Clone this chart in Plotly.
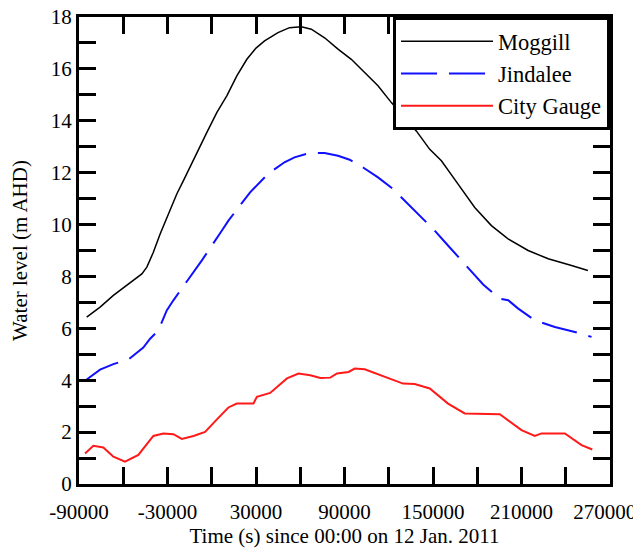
import plotly.graph_objects as go

# ---- data ----
moggill_t = [-84800, -75700, -66700, -57600, -47400, -44000, -39600, -35000, -29400, -23700,
             -19200, -10100, -3300, 3500, 10200, 17000, 23800, 30000, 35800, 44900, 52700,
             60700, 67500, 76500, 85600, 94600, 103600, 112700, 121800, 130000, 138800,
             147800, 155700, 167000, 178300, 189600, 200900, 214500, 228100, 243900, 255000]
moggill_h = [6.43, 6.82, 7.27, 7.65, 8.10, 8.36, 8.93, 9.64, 10.41, 11.18,
             11.69, 12.78, 13.55, 14.32, 14.96, 15.73, 16.37, 16.80, 17.08, 17.40, 17.59,
             17.62, 17.53, 17.20, 16.76, 16.37, 15.86, 15.35, 14.70, 14.15, 13.60,
             12.90, 12.46, 11.56, 10.66, 9.96, 9.45, 9.00, 8.68, 8.42, 8.23]

jindalee_t = [-84800, -75700, -66700, -56500, -46400, -41800, -36200, -30500, -26000, -12400,
              -6700, 6900, 11300, 26000, 38100, 49300, 56100, 66300, 76500, 85600, 93500,
              102600, 112700, 122900, 129700, 139900, 151100, 159100, 178300, 184000,
              195300, 201000, 207800, 219000, 232600, 246200, 257500]
jindalee_h = [4.03, 4.41, 4.62, 4.80, 5.26, 5.60, 5.92, 6.69, 7.08, 8.17,
              8.62, 9.77, 10.15, 11.24, 11.95, 12.40, 12.59, 12.76, 12.76, 12.65, 12.50,
              12.20, 11.82, 11.37, 10.99, 10.41, 9.77, 9.26, 8.04, 7.69,
              7.14, 7.08, 6.76, 6.31, 6.05, 5.86, 5.67]

city_t = [-85900, -80300, -73500, -66700, -58800, -49750, -39600, -32800, -26000, -20300,
          -12400, -4500, 3500, 11300, 17000, 28300, 30600, 39600, 51000, 58800, 66800,
          73600, 80400, 84900, 92800, 96900, 103700, 117200, 129700, 137600, 147800,
          160200, 171500, 195300, 210000, 219000, 223600, 239400, 250700, 258000]
city_h = [1.18, 1.47, 1.41, 1.05, 0.86, 1.12, 1.85, 1.95, 1.92, 1.74,
          1.85, 2.01, 2.49, 2.95, 3.10, 3.10, 3.36, 3.51, 4.07, 4.26, 4.19,
          4.09, 4.10, 4.26, 4.32, 4.45, 4.42, 4.13, 3.87, 3.85, 3.68,
          3.10, 2.72, 2.69, 2.08, 1.85, 1.95, 1.95, 1.50, 1.33]

x_tickvals = [-90000, -60000, -30000, 0, 30000, 60000, 90000, 120000, 150000, 180000, 210000, 240000, 270000]
x_ticktext = ["-90000", "", "-30000", "", "30000", "", "90000", "", "150000", "", "210000", "",
              "270000\u00a0\u00a0"]
y_tickvals = list(range(0, 19))
y_ticktext = [str(v) if v % 2 == 0 else "" for v in y_tickvals]

FONT = "Liberation Serif"

fig = go.Figure()
fig.add_trace(go.Scatter(x=moggill_t, y=moggill_h, mode="lines", name="Moggill",
                         line=dict(color="black", width=1.5)))
fig.add_trace(go.Scatter(x=jindalee_t, y=jindalee_h, mode="lines", name="Jindalee",
                         line=dict(color="#1010ff", width=2, dash="36px,12px")))
fig.add_trace(go.Scatter(x=city_t, y=city_h, mode="lines", name="City Gauge",
                         line=dict(color="#ff1a1a", width=2)))

axis_common = dict(showline=True, linecolor="black", linewidth=3, mirror="ticks",
                   ticks="inside", ticklen=17, tickwidth=3, tickcolor="black",
                   showgrid=False, zeroline=False, automargin=False,
                   ticklabeloverflow="allow",
                   tickfont=dict(family=FONT, size=21, color="black"))

fig.update_xaxes(range=[-90000, 270000], tickmode="array", tickvals=x_tickvals,
                 ticktext=x_ticktext, ticklabelstandoff=7,
                 title=dict(text="Time (s) since 00:00 on 12 Jan. 2011",
                            font=dict(family=FONT, size=21, color="black"), standoff=6),
                 **axis_common)
fig.update_yaxes(range=[0, 18], tickmode="array", tickvals=y_tickvals,
                 ticktext=y_ticktext, ticklabelstandoff=0,
                 title=dict(text="Water level (m AHD)",
                            font=dict(family=FONT, size=21, color="black"), standoff=22),
                 **axis_common)

# the page body adds an 8 px margin, so the figure is offset by 8 px
fig.update_layout(
    width=633, height=545,
    margin=dict(l=71, r=31, t=9, b=69),
    paper_bgcolor="white", plot_bgcolor="white",
    showlegend=True,
    legend=dict(x=1, xanchor="right", y=1, yanchor="top",
                bgcolor="white", bordercolor="black", borderwidth=3,
                font=dict(family=FONT, size=22.5, color="black"),
                itemwidth=92, tracegroupgap=0),
)

fig.write_html("out.html")
